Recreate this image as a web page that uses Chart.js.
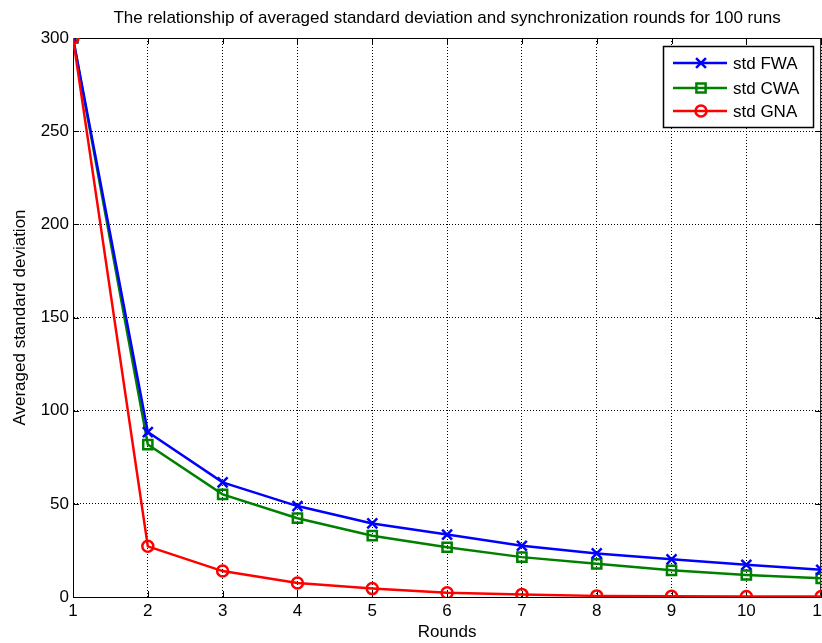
<!DOCTYPE html>
<html>
<head>
<meta charset="utf-8">
<script src="https://cdn.jsdelivr.net/npm/chart.js@4.4.1/dist/chart.umd.min.js"></script>
<style>
  html, body { margin: 0; padding: 0; background: #fff; }
  #wrap { width: 822px; height: 643px; overflow: hidden; }
  #inner { width: 834px; height: 643px; }
</style>
</head>
<body>
<div id="wrap"><div id="inner"><canvas id="stdChart"></canvas></div></div>
<script>
// data
var rounds = [1, 2, 3, 4, 5, 6, 7, 8, 9, 10, 11];
var stdFWA = [300, 88.5, 61.5, 48.8, 39.5, 33.5, 27.5, 23.4, 20.2, 17.3, 14.6];
var stdCWA = [300, 81.8, 55.1, 42.3, 32.9, 26.7, 21.4, 17.8, 14.3, 11.8, 10.0];
var stdGNA = [300, 27.2, 13.9, 7.5, 4.5, 2.3, 1.4, 0.6, 0.4, 0.3, 0.3];
var yTicks = [0, 50, 100, 150, 200, 250, 300];
var seriesNames = ['std FWA', 'std CWA', 'std GNA'];
var chartTitle = 'The relationship of averaged standard deviation and synchronization rounds for 100 runs';

var FONT = '"Liberation Sans", Arial, sans-serif';

function toPoints(arr) {
    return rounds.map(function (r, i) { return { x: r, y: arr[i] }; });
}

function makeSet(label, values, color, style, radius, order) {
    return {
        label: label,
        data: toPoints(values),
        borderColor: color,
        backgroundColor: 'rgba(0,0,0,0)',
        pointBorderColor: color,
        pointBackgroundColor: 'rgba(0,0,0,0)',
        pointStyle: style,
        pointRadius: radius,
        pointBorderWidth: 2.5,
        borderWidth: 2.5,
        tension: 0,
        order: order
    };
}

// axes box + inward tick marks + title centred on the axes, matlab style
var boxPlugin = {
    id: 'boxPlugin',
    beforeDatasetsDraw: function (chart) {
        var ctx = chart.ctx, a = chart.chartArea;
        var xs = chart.scales.x, ys = chart.scales.y;
        ctx.save();
        ctx.strokeStyle = '#000';
        ctx.lineWidth = 1;
        ctx.strokeRect(a.left + 0.5, a.top + 0.5, a.right - a.left - 1, a.bottom - a.top);
        ctx.beginPath();
        rounds.forEach(function (r) {
            var px = Math.round(xs.getPixelForValue(r)) + 0.5;
            ctx.moveTo(px, a.bottom); ctx.lineTo(px, a.bottom - 6);
            ctx.moveTo(px, a.top); ctx.lineTo(px, a.top + 6);
        });
        yTicks.forEach(function (v) {
            var py = Math.round(ys.getPixelForValue(v)) + 0.5;
            ctx.moveTo(a.left, py); ctx.lineTo(a.left + 6, py);
            ctx.moveTo(a.right, py); ctx.lineTo(a.right - 6, py);
        });
        ctx.stroke();

        ctx.fillStyle = '#000';
        ctx.font = '17px ' + FONT;
        ctx.textAlign = 'center';
        ctx.textBaseline = 'middle';
        ctx.fillText(chartTitle, (a.left + a.right) / 2, 18);
        ctx.restore();
    }
};

// legend box inside the axes, top right
var legendPlugin = {
    id: 'legendPlugin',
    afterDraw: function (chart) {
        var ctx = chart.ctx;
        var bx = 663, by = 46, bw = 150, bh = 81;
        var rows = [63, 88, 111];
        ctx.save();
        ctx.fillStyle = '#fff';
        ctx.fillRect(bx, by, bw, bh);
        ctx.strokeStyle = '#000';
        ctx.lineWidth = 1.5;
        ctx.strokeRect(bx + 0.5, by + 0.5, bw, bh);
        chart.data.datasets.forEach(function (ds, i) {
            var y = rows[i];
            ctx.strokeStyle = ds.borderColor;
            ctx.fillStyle = 'rgba(0,0,0,0)';
            ctx.lineWidth = 2.5;
            ctx.beginPath();
            ctx.moveTo(673, y); ctx.lineTo(727, y);
            ctx.stroke();
            Chart.helpers.drawPoint(ctx, {
                pointStyle: ds.pointStyle,
                radius: ds.pointRadius,
                borderWidth: 2.5
            }, 701, y);
            ctx.fillStyle = '#000';
            ctx.font = '17px ' + FONT;
            ctx.textBaseline = 'middle';
            ctx.textAlign = 'left';
            ctx.fillText(seriesNames[i], 733, y + 1);
        });
        ctx.restore();
    }
};

var ctx = document.getElementById('stdChart').getContext('2d');
var stdChart = new Chart(ctx, {
    type: 'line',
    data: {
        datasets: [
            makeSet(seriesNames[0], stdFWA, '#0000ff', 'crossRot', 7, 1),
            makeSet(seriesNames[1], stdCWA, '#008000', 'rect', 6.5, 2),
            makeSet(seriesNames[2], stdGNA, '#ff0000', 'circle', 5.5, 0)
        ]
    },
    plugins: [boxPlugin, legendPlugin],
    options: {
        responsive: true,
        maintainAspectRatio: false,
        animation: false,
        layout: { padding: { top: 38, right: 0, bottom: 0, left: 0 } },
        plugins: {
            legend: { display: false },
            tooltip: { enabled: false },
            title: { display: false }
        },
        scales: {
            x: {
                type: 'linear',
                min: 1,
                max: 11,
                afterFit: function (s) { s.height = 46; },
                ticks: {
                    stepSize: 1,
                    color: '#000',
                    padding: 4,
                    maxRotation: 0,
                    font: { family: FONT, size: 17 }
                },
                grid: { color: '#000', lineWidth: 1, drawTicks: false },
                border: { display: true, color: '#000', width: 1, dash: [1, 2] },
                title: {
                    display: true,
                    text: 'Rounds',
                    color: '#000',
                    font: { family: FONT, size: 17 },
                    padding: { top: 0, bottom: 0 }
                }
            },
            y: {
                type: 'linear',
                min: 0,
                max: 300,
                afterFit: function (s) { s.width = 73; },
                ticks: {
                    stepSize: 50,
                    color: '#000',
                    padding: 4,
                    font: { family: FONT, size: 17 }
                },
                grid: { color: '#000', lineWidth: 1, drawTicks: false },
                border: { display: true, color: '#000', width: 1, dash: [1, 2] },
                title: {
                    display: true,
                    text: 'Averaged standard deviation',
                    color: '#000',
                    font: { family: FONT, size: 17 },
                    padding: { top: 10, bottom: 0 }
                }
            }
        }
    }
});
</script>
</body>
</html>
